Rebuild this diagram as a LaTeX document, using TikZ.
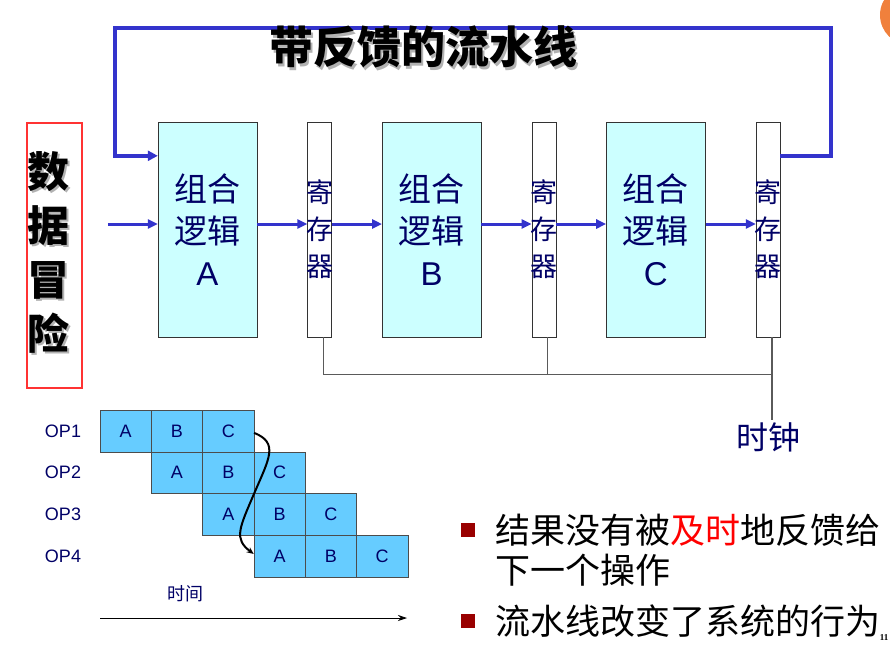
\documentclass[tikz,border=0pt]{standalone}
\usepackage{fontspec}
\setmainfont{Liberation Sans}
\newfontfamily\cjk{Noto Sans CJK SC}
\newfontfamily\pagefont{Liberation Serif}
\usetikzlibrary{positioning, arrows.meta, calc}
\definecolor{flowblue}{RGB}{51, 51, 204}
\definecolor{logiccyan}{RGB}{204, 255, 255}
\definecolor{cellblue}{RGB}{102, 204, 255}
\definecolor{inknavy}{RGB}{0, 0, 102}
\definecolor{bulletred}{RGB}{153, 0, 0}
\definecolor{hazardred}{RGB}{255, 51, 51}
\definecolor{clockgray}{RGB}{90, 90, 90}
\definecolor{dotorange}{RGB}{240, 128, 60}

\begin{document}
\begin{tikzpicture}[
    x=1pt, y=-1pt,
    node distance=50.2pt,
    logic/.style={rectangle, draw=black!80, fill=logiccyan, minimum width=99pt, minimum height=215pt, inner sep=0pt, align=center, text=inknavy, font=\cjk\fontsize{33}{42}\selectfont},
    reg/.style={rectangle, draw=black!80, fill=white, minimum width=24pt, minimum height=215pt, inner ysep=0pt, inner xsep=-2pt, align=center, text=inknavy, font=\cjk\fontsize{27}{37}\selectfont},
    cell/.style={rectangle, draw=black!70, fill=cellblue, minimum width=51.3pt, minimum height=41.7pt, inner sep=0pt, text=inknavy, font=\fontsize{18}{18}\selectfont},
    oplabel/.style={text=inknavy, inner sep=0pt, font=\fontsize{18}{18}\selectfont},
    title/.style={inner sep=0pt, font=\cjk\bfseries\fontsize{44}{44}\selectfont},
    hazardtext/.style={inner sep=0pt, align=center, font=\cjk\bfseries\fontsize{42}{54}\selectfont},
    hazardbox/.style={rectangle, draw=hazardred, line width=2.5pt, minimum width=55pt, minimum height=265pt, inner sep=0pt},
    bullet/.style={rectangle, fill=bulletred, minimum size=14pt, inner sep=0pt},
    point/.style={inner sep=0pt, font=\cjk\fontsize{35}{40}\selectfont},
    flow/.style={flowblue, line width=3pt, -{Triangle[length=10pt, width=9pt]}},
    feedback/.style={flowblue, line width=3.5pt, -{Triangle[length=10pt, width=10pt]}},
    clock/.style={clockgray, line width=1.2pt},
    hazard/.style={black, line width=2pt, -{Stealth[length=7pt, width=6pt]}},
    timearrow/.style={black, line width=0.8pt, -{Stealth[length=9pt, width=6pt]}}
]

    \useasboundingbox (0,0) rectangle (890,648);
    \clip (0,0) rectangle (890,648);
    \fill[dotorange] (910,15) circle (30);

    % pipeline stages
    \node[logic] (lA) at (207.5,229.5) {组合\\逻辑\\{\rmfamily A}};
    \node[reg, right=of lA] (rA) {寄\\存\\器};
    \node[logic, right=of rA] (lB) {组合\\逻辑\\{\rmfamily B}};
    \node[reg, right=of lB] (rB) {寄\\存\\器};
    \node[logic, right=of rB] (lC) {组合\\逻辑\\{\rmfamily C}};
    \node[reg, right=of lC] (rC) {寄\\存\\器};

    \coordinate (in) at ($(lA.west)+(-50,-5.5)$);
    \coordinate (fbout) at ($(rC.north east)+(0,34)$);
    \coordinate (fbin) at ($(lA.north west)+(0,34)$);

    \draw[flow] (in) -- (lA.west |- in);
    \draw[flow] (lA.east |- in) -- (rA.west |- in);
    \draw[flow] (rA.east |- in) -- (lB.west |- in);
    \draw[flow] (lB.east |- in) -- (rB.west |- in);
    \draw[flow] (rB.east |- in) -- (lC.west |- in);
    \draw[flow] (lC.east |- in) -- (rC.west |- in);
    \draw[feedback] (fbout) -- ++(51,0) |- ++(-716,-128) |- (fbin);

    % clock
    \node[text=inknavy, inner sep=2pt, font=\cjk\fontsize{32}{32}\selectfont] (clk) at (768,437) {时钟};
    \coordinate (clkbus) at ($(rC.south)+(4,37)$);
    \draw[clock] ([xshift=4pt]rA.south) |- (clkbus);
    \draw[clock] ([xshift=4pt]rB.south) -- ([xshift=4pt]rB.south |- clkbus);
    \draw[clock] ([xshift=4pt]rC.south) -- (clk.north -| clkbus);

    % title and hazard label
    \coordinate (ttlpos) at (423,47);
    \node[title, text=black!30] at ([shift={(2.5,2.5)}]ttlpos) {带反馈的流水线};
    \node[title] (ttl) at (ttlpos) {带反馈的流水线};
    \node[hazardbox] (hbox) at (54.5,255.5) {};
    \node[hazardtext, text=black!30] at ([shift={(-4,-1)}]hbox.center) {数\\据\\冒\\险};
    \node[hazardtext] (htext) at ([shift={(-6.5,-3.5)}]hbox.center) {数\\据\\冒\\险};

    % timing chart
    \foreach \r in {1,...,4} {
        \node[oplabel] (op\r) at (63,{410+41.7*(\r-1)+21}) {OP\r};
        \foreach [count=\k] \s in {A,B,C}
            \node[cell] (c\r\s) at ({100+51.3*(\r+\k-2)+25.65},{410+41.7*(\r-1)+20.85}) {\s};
    }
    \draw[hazard] ([yshift=-2pt]c1C.east) .. controls +(25,10) and +(15,-35) .. (c2B.south east)
        .. controls +(-15,35) and +(-20,-15) .. ([yshift=2pt]c4A.west);

    \node[text=inknavy, inner sep=0pt, font=\cjk\fontsize{18}{18}\selectfont] (tlabel) at (185,594) {时间};
    \coordinate (t0) at (100,618);
    \coordinate (t1) at (407,618);
    \draw[timearrow] (t0) -- (t1);

    % remarks
    \node[bullet] (b1) at (468,530) {};
    \node[point, right=20pt of b1] (p1) {结果没有被\textcolor{red}{及时}地反馈给};
    \node[point, anchor=west] (p2) at ($(p1.west)+(0,40)$) {下一个操作};
    \node[bullet] (b2) at (468,621) {};
    \node[point, right=20pt of b2] (p3) {流水线改变了系统的行为};

    \node[inner sep=0pt, font=\pagefont\bfseries\fontsize{9}{9}\selectfont] (pnum) at (884,638) {11};

\end{tikzpicture}
\end{document}
